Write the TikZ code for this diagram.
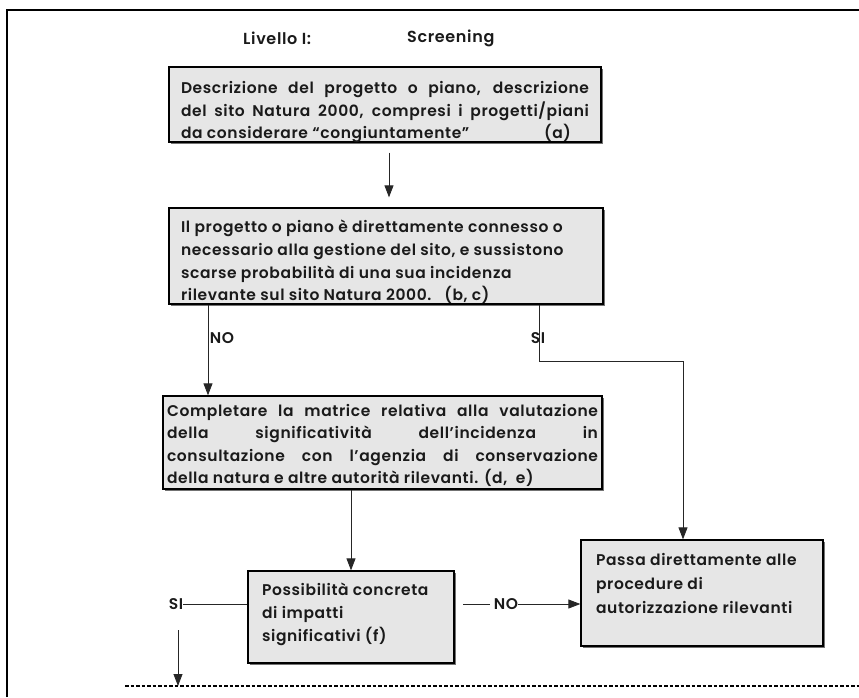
\documentclass[tikz,border=0pt]{standalone}
\usepackage{fontspec}
\setmainfont{Poppins}[UprightFont=* SemiBold, BoldFont=* Bold, LetterSpace=4]
\usetikzlibrary{arrows.meta,shadows}
\definecolor{boxgray}{HTML}{E6E6E6}
\definecolor{ink}{HTML}{1A1A1A}
\newcommand\bxtext[5]{\parbox[c][#2][t]{#1}{\fontsize{15.5}{#4}\selectfont\vspace*{#3}#5}}
\newcommand\fl[1]{\makebox[\linewidth][s]{\strut #1}}
\begin{document}
\begin{tikzpicture}[x=1pt,y=-1pt,
  box/.style={draw=black, line width=1.3pt, fill=boxgray, text=ink, inner ysep=0pt,
    drop shadow={shadow xshift=1.5pt, shadow yshift=-1.5pt, fill=black!55, opacity=1}},
  conn/.style={line width=0.8pt, draw=black!85},
  arr/.style={conn, -{Triangle[width=9pt,length=12pt]}},
  lbl/.style={inner sep=0pt, text=ink, font=\fontsize{15.5}{17}\selectfont},
  ttl/.style={inner sep=0pt, text=ink, font=\fontsize{16}{18}\selectfont}
]
\useasboundingbox (0,0) rectangle (859,697);
% frame
\draw[line width=2.6pt] (7,697) -- (7,10) -- (859,10);

% title
\node[ttl, anchor=west] (t1) at (243,38) {Livello I:};
\node[ttl, anchor=west] (t2) at (407,38) {Screening};

% box 1
\node[box, inner xsep=12pt] (b1) at (385,104.5)
  {\bxtext{408pt}{75pt}{11.2pt}{22.5pt}{%
   \fl{Descrizione del progetto o piano, descrizione}\\
   \fl{del sito Natura 2000, compresi i progetti/piani}\\
   \hbox to \linewidth{\strut da considerare “congiuntamente”\hfill(a)\hspace*{18pt}}}};

% box 2
\node[box, inner xsep=12pt] (b2) at (386,256)
  {\bxtext{410pt}{96pt}{9pt}{22.6pt}{%
   \strut Il progetto o piano è direttamente connesso o\\
   necessario alla gestione del sito, e sussistono\\
   scarse probabilità di una sua incidenza\\
   rilevante sul sito Natura 2000.\ \ \ (b, c)}};

% box 3
\node[box, inner xsep=4pt] (b3) at (382.5,442.5)
  {\bxtext{431pt}{93pt}{4.2pt}{22.6pt}{%
   \fl{Completare la matrice relativa alla valutazione}\\
   \fl{della significatività dell’incidenza in}\\
   \fl{consultazione con l’agenzia di conservazione}\\
   della natura e altre autorità rilevanti. (d,\ \ e)}};

% box 4
\node[box, inner xsep=14pt] (b4) at (351,617)
  {\bxtext{178pt}{92pt}{8.2pt}{23pt}{%
   \strut Possibilità concreta\\
   di impatti\\
   significativi (f)}};

% box 5
\node[box, inner xsep=15pt] (b5) at (702,593)
  {\bxtext{212pt}{106pt}{8.2pt}{24pt}{%
   \strut Passa direttamente alle\\
   procedure di\\
   autorizzazione rilevanti}};

% labels
\node[lbl] (no1) at (222,338) {NO};
\node[lbl] (si1) at (538,338) {SI};
\node[lbl] (si2) at (176,604) {SI};
\node[lbl] (no2) at (506,604) {NO};

\coordinate (c1) at (539,361);
\coordinate (c2) at (683,361);
\coordinate (d1) at (178,630);
\coordinate (dl) at (125,686);
\coordinate (dr) at (859,686);
\coordinate (n1) at (463,604);

% connectors
\draw[arr, shorten <=10pt, shorten >=10pt] ([xshift=4pt]b1.south) -- ([xshift=4pt]b1.south |- b2.north);
\draw[arr] (b2.south -| 208,0) -- (b3.north -| 208,0);
\draw[conn] (b2.south -| c1) -- (c1) -- (c2);
\draw[arr] (c2) -- (c2 |- b5.north);
\draw[arr] (b3.south -| b4.north) -- (b4.north);
\draw[conn] (si2.east) -- (b4.west |- si2.east);
\draw[arr] (d1) -- (d1 |- dl);
\draw[conn] (n1) -- (no2.west -| 490,0);
\draw[arr] (no2.east) -- (b5.west |- no2.east);
\draw[line width=1.2pt, dash pattern=on 3.5pt off 2pt] (dl) -- (dr);
\end{tikzpicture}
\end{document}
